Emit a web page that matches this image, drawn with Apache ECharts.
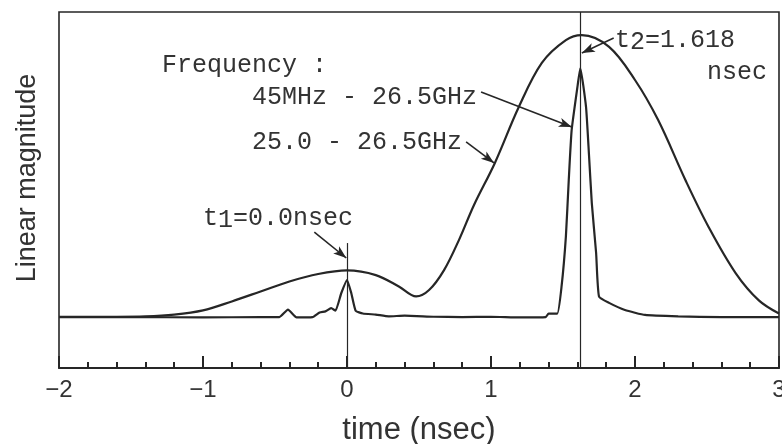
<!DOCTYPE html>
<html>
<head>
<meta charset="utf-8">
<script src="https://cdn.jsdelivr.net/npm/echarts@6/dist/echarts.min.js"></script>
<style>
html,body{margin:0;padding:0;background:#fff;}
#c{width:782px;height:444px;}
</style>
</head>
<body>
<div id="c"></div>
<script>
// time (nsec) and linear magnitude (arbitrary units, 0..100 full frame)
const broadTime = [-2.0,-1.6,-1.4,-1.2,-1.0,-0.8,-0.6,-0.4,-0.2,0.0,0.2,0.36,0.48,0.57,0.674,0.778,0.882,1.027,1.193,1.353,1.52,1.63,1.82,2.0,2.16,2.35,2.51,2.70,2.86,3.0];
const broadMag  = [14.4,14.4,14.5,15.0,16.2,18.7,21.5,24.3,26.4,27.4,26.1,22.9,20.1,21.9,27.5,36.0,45.8,57.6,73.3,85.7,92.1,93.5,90.2,80.9,69.7,52.8,39.7,26.6,19.0,15.3];

const narrowTime = [-2.0,-1.5,-1.0,-0.6,-0.47,-0.41,-0.35,-0.24,-0.19,-0.15,-0.11,-0.08,-0.04,0.0,0.03,0.06,0.11,0.2,0.29,0.4,0.6,0.8,1.0,1.2,1.38,1.40,1.46,1.49,1.52,1.54,1.56,1.60,1.62,1.66,1.68,1.70,1.73,1.75,1.82,1.93,2.07,2.3,2.6,3.0];
const narrowMag  = [14.3,14.3,14.2,14.3,14.3,16.4,14.2,14.3,15.6,15.9,16.8,16.1,21.0,24.7,21.0,16.1,15.3,15.0,14.5,14.7,14.4,14.3,14.4,14.2,14.3,15.3,15.3,22.9,36.9,52.8,66.8,78.9,84.2,73.3,60.2,46.3,32.3,20.1,18.3,16.3,14.9,14.5,14.3,14.3];

const xTicks = [-2,-1,0,1,2,3];
const markerTimes = [0.0, 1.618];

// annotation arrows: [fromTime, fromMag, toTime, toMag]
const arrows = [
  [0.931, 77.5, 1.561, 67.7],
  [0.827, 63.5, 1.021, 57.6],
  [-0.227, 38.2, -0.005, 30.9],
  [1.852, 92.7, 1.631, 88.5]
];

const ink = '#262626';
const mono = "'Liberation Mono','Courier New',monospace";
const sans = "'Liberation Sans',Arial,Helvetica,sans-serif";

const zip = (a,b) => a.map((v,i)=>[v,b[i]]);

const chart = echarts.init(document.getElementById('c'), null, {renderer:'canvas'});

const markData = [
  [{coord:[markerTimes[0],0],symbol:'none'},{coord:[markerTimes[0],35.1],symbol:'none'}],
  [{coord:[markerTimes[1],0],symbol:'none'},{coord:[markerTimes[1],100],symbol:'none'}]
].concat(arrows.map(a=>[
  {coord:[a[0],a[1]],symbol:'none', lineStyle:{width:1.6}},
  {coord:[a[2],a[3]],symbol:'arrow',symbolSize:[7,13], lineStyle:{width:1.6}}
]));

function txt(x, y, rich) {
  return {type:'text', x:x, y:y, silent:true,
    style:{text:rich.text, rich:rich.rich, fill:'#333', font:'25px '+mono, align:'left', verticalAlign:'middle'}};
}
const richStyles = {
  n:{fontSize:25, fontFamily:mono, fill:'#333', lineHeight:30, verticalAlign:'middle'},
  s:{fontSize:25, fontFamily:mono, fill:'#333', lineHeight:12, verticalAlign:'bottom'}
};

chart.setOption({
  animation:false,
  backgroundColor:'#fff',
  grid:{left:59, right:3, top:12, bottom:76, show:true, borderColor:ink, borderWidth:1.6,
        backgroundColor:'transparent', outerBoundsMode:'none', containLabel:false},
  xAxis:{
    type:'value', min:-2, max:3, interval:1,
    name:'time (nsec)', nameLocation:'middle', nameGap:47,
    nameTextStyle:{fontSize:31, fontFamily:sans, color:'#333'},
    axisLine:{lineStyle:{color:ink, width:2}},
    axisTick:{inside:true, length:12, lineStyle:{color:ink, width:2}},
    minorTick:{show:true, splitNumber:5, length:6, lineStyle:{color:ink, width:2}},
    splitLine:{show:false},
    axisLabel:{fontSize:24, fontFamily:sans, color:'#333', margin:10, hideOverlap:false,
      formatter:v=> xTicks.indexOf(v)>=0 ? (v<0 ? '\u2212'+(-v) : String(v)) : ''}
  },
  yAxis:{
    type:'value', min:0, max:100,
    name:'Linear magnitude', nameLocation:'middle', nameGap:18, nameRotate:90,
    nameTextStyle:{fontSize:27, fontFamily:sans, color:'#333', padding:[0,0,0,24]},
    axisLine:{show:false}, axisTick:{show:false}, axisLabel:{show:false}, splitLine:{show:false}
  },
  series:[
    {type:'line', name:'25.0 - 26.5GHz', data:zip(broadTime,broadMag), smooth:0.35, symbol:'none',
     lineStyle:{color:ink, width:2.2}, silent:true},
    {type:'line', name:'45MHz - 26.5GHz', data:zip(narrowTime,narrowMag), smooth:0.15, symbol:'none',
     lineStyle:{color:ink, width:2.2}, silent:true,
     markLine:{silent:true, animation:false, symbol:['none','none'], label:{show:false},
       lineStyle:{color:ink, width:1.2, type:'solid'}, emphasis:{disabled:true}, data:markData}}
  ],
  graphic:[
    txt(162, 65, {text:'{n|Frequency :}', rich:richStyles}),
    txt(252, 97, {text:'{n|45MHz - 26.5GHz}', rich:richStyles}),
    txt(252, 142, {text:'{n|25.0 - 26.5GHz}', rich:richStyles}),
    txt(203, 218, {text:'{n|t}{s|1}{n|=0.0nsec}', rich:richStyles}),
    txt(615, 40, {text:'{n|t}{s|2}{n|=1.618}', rich:richStyles}),
    txt(707, 72, {text:'{n|nsec}', rich:richStyles})
  ]
});
</script>
</body>
</html>
